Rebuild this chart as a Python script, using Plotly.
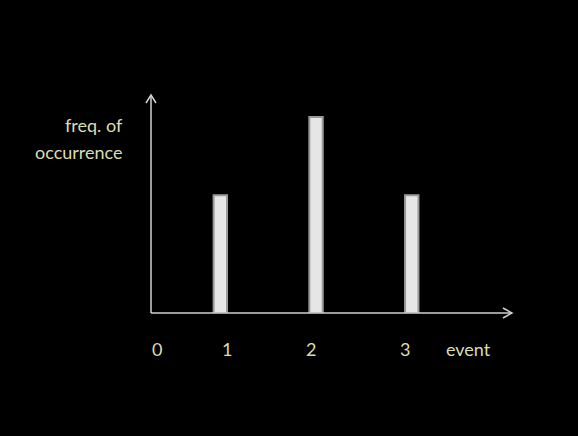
import plotly.graph_objects as go

# event values and how often each one occurs
events = [1, 2, 3]
freq = [3, 5, 3]

# labels printed under the horizontal axis (text, position in event units)
event_labels = ['0', '1', '2', '3', 'event']
label_pos = [0.34, 1.07, 1.95, 2.93, 3.59]

y_label_lines = ['freq. of', 'occurrence']

label_color = '#dcdcb2'
axis_color = '#d0d0d0'
font_family = 'Lato, Open Sans, sans-serif'

fig = go.Figure()
fig.add_trace(go.Bar(
    x=events,
    y=freq,
    width=0.14,
    marker=dict(color='#e6e6e6', line=dict(color='#9a9a9a', width=2)),
    hoverinfo='skip'
))

# axis lines with open arrow heads
fig.add_shape(type='line', xref='paper', yref='paper', x0=0, y0=0, x1=0, y1=1,
              line=dict(color=axis_color, width=1.5))
fig.add_shape(type='line', xref='paper', yref='paper', x0=0, y0=0, x1=1, y1=0,
              line=dict(color=axis_color, width=1.5))
fig.add_shape(type='path', xref='paper', yref='paper', xsizemode='pixel', ysizemode='pixel',
              xanchor=0, yanchor=1, path='M -5,-8 L 0,0 L 5,-8',
              line=dict(color=axis_color, width=1.5))
fig.add_shape(type='path', xref='paper', yref='paper', xsizemode='pixel', ysizemode='pixel',
              xanchor=1, yanchor=0, path='M -9,5 L 0,0 L -9,-5',
              line=dict(color=axis_color, width=1.5))

for txt, pos in zip(event_labels, label_pos):
    fig.add_annotation(x=pos, y=0, xref='x', yref='paper', text=txt, showarrow=False,
                       yshift=-49, font=dict(color=label_color, size=18, family=font_family))

for i, line in enumerate(y_label_lines):
    fig.add_annotation(x=0, y=0.79, xref='paper', yref='paper', text=line, showarrow=False,
                       xanchor='right', xshift=-26, yshift=29 - 27 * i,
                       font=dict(color=label_color, size=18, family=font_family))

fig.update_layout(
    width=578,
    height=436,
    margin=dict(l=151, r=66, t=95, b=123),
    paper_bgcolor='black',
    plot_bgcolor='black',
    showlegend=False,
    xaxis=dict(range=[0.276, 4.047], visible=False, fixedrange=True),
    yaxis=dict(range=[0, 5.56], visible=False, fixedrange=True)
)

# black page without the default body margin
fig.write_html('out.html', config={'displayModeBar': False},
               post_script="document.body.style.margin='0';document.body.style.background='black';")
